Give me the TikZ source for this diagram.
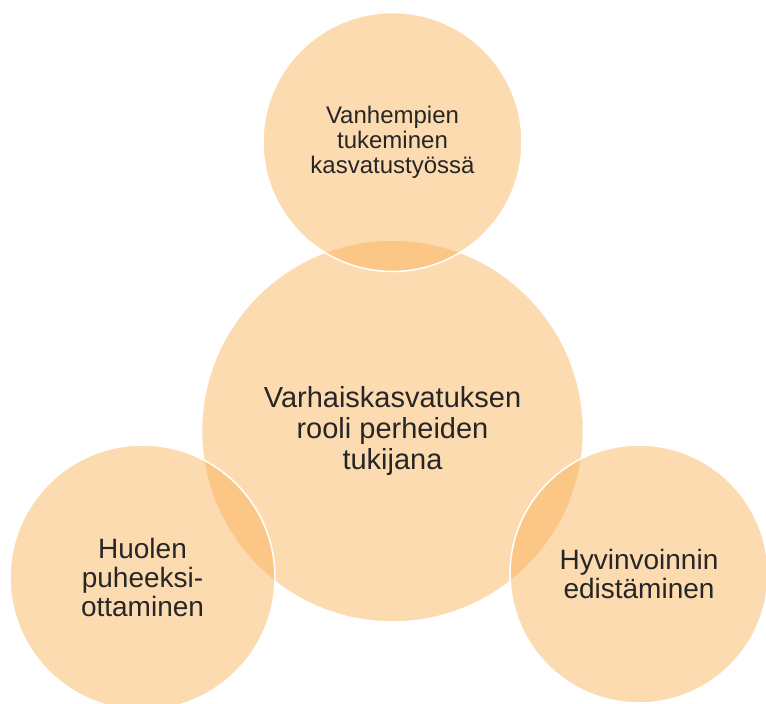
\documentclass[tikz,border=0pt]{standalone}
\usepackage{fontspec}
\setmainfont{Liberation Sans}
\usepackage{xcolor}
\definecolor{peach}{RGB}{251,178,87}
\definecolor{inktext}{RGB}{38,38,38}

\begin{document}
\begin{tikzpicture}[x=1pt,y=-1pt]
    \tikzstyle{bubble}=[circle,fill=peach,fill opacity=0.47,text opacity=1,draw=white,line width=1.5pt,inner sep=0pt,align=center,text=inktext]
    \tikzstyle{hub}=[bubble,minimum size=382pt,font=\fontsize{29}{31}\selectfont]
    \tikzstyle{satellite}=[bubble,font=\fontsize{28}{29}\selectfont]

    \useasboundingbox (0,0) rectangle (766,704);

    % centre first, the others lie over it
    \node[hub] (roole) at (392.5,431) {Varhaiskasvatuksen\\rooli perheiden\\tukijana};

    \node[satellite,minimum size=259pt,font=\fontsize{24}{25}\selectfont] (vanh) at (392.5,142) {Vanhempien\\tukeminen\\kasvatustyössä};
    \node[satellite,minimum size=265pt] (huoli) at (142.5,577.5) {Huolen\\puheeksi-\\ottaminen};
    \node[satellite,minimum size=258pt] (hyvin) at (639,574) {Hyvinvoinnin\\edistäminen};
\end{tikzpicture}
\end{document}
